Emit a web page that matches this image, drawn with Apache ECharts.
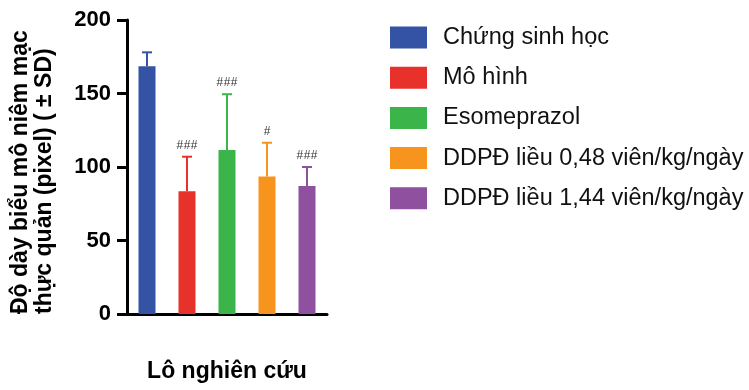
<!DOCTYPE html>
<html>
<head>
<meta charset="utf-8">
<script src="https://cdn.jsdelivr.net/npm/echarts@6/dist/echarts.min.js"></script>
<style>
  html, body { margin: 0; padding: 0; background: #fff; }
  #chart { width: 749px; height: 390px; }
</style>
</head>
<body>
<div id="chart"></div>
<script>
// Groups, mean thickness and standard deviation (pixel)
const categories = [
  'Chứng sinh học',
  'Mô hình',
  'Esomeprazol',
  'DDPĐ liều 0,48 viên/kg/ngày',
  'DDPĐ liều 1,44 viên/kg/ngày'
];
const means = [168.5, 83.5, 111.5, 93.5, 87];
const sds = [9.5, 23.5, 38, 23, 13];
const marks = ['', '###', '###', '#', '###'];
const colors = ['#3553A5', '#E8312A', '#3BB54A', '#F7941E', '#8E509F'];
const yTitleLines = ['Độ dày biểu mô niêm mạc', 'thực quản (pixel) ( ± SD)'];
const xTitle = 'Lô nghiên cứu';

const FONT = '"Liberation Sans", Arial, Helvetica, sans-serif';

const chart = echarts.init(document.getElementById('chart'), null, { renderer: 'canvas' });

// one bar series per group so each gets its own legend entry
const barSeries = categories.map((name, i) => ({
  name: name,
  type: 'bar',
  barWidth: 17,
  barGap: '-100%',
  itemStyle: { color: colors[i] },
  data: categories.map((_, j) => (j === i ? means[i] : null)),
  z: 2
}));

// upward SD whiskers with caps and significance marks
const errorSeries = {
  type: 'custom',
  z: 3,
  data: means.map((m, i) => [i, m, m + sds[i]]),
  encode: { x: 0, y: [1, 2] },
  renderItem: function (params, api) {
    const i = params.dataIndex;
    const base = api.coord([api.value(0), api.value(1)]);
    const top = api.coord([api.value(0), api.value(2)]);
    const c = colors[i];
    const capHalf = 5;
    const children = [
      { type: 'line', shape: { x1: base[0], y1: base[1], x2: top[0], y2: top[1] },
        style: { stroke: c, lineWidth: 2 } },
      { type: 'line', shape: { x1: top[0] - capHalf, y1: top[1], x2: top[0] + capHalf, y2: top[1] },
        style: { stroke: c, lineWidth: 2 } }
    ];
    if (marks[i]) {
      children.push({
        type: 'text',
        style: {
          text: marks[i], x: top[0], y: top[1] - 11,
          align: 'center', verticalAlign: 'middle',
          font: '12px "Liberation Mono", "DejaVu Sans Mono", monospace',
          fill: '#333'
        }
      });
    }
    return { type: 'group', children: children };
  }
};

const option = {
  animation: false,
  backgroundColor: '#fff',
  grid: { left: 127, right: 422, top: 20, bottom: 76 },
  legend: {
    orient: 'vertical',
    left: 385,
    top: 20.5,
    icon: 'rect',
    itemWidth: 37,
    itemHeight: 22,
    itemGap: 16.2,
    data: categories,
    textStyle: { fontFamily: FONT, fontSize: 23.5, lineHeight: 24, color: '#111', padding: [0, 0, 0, 11] }
  },
  xAxis: {
    type: 'category',
    data: categories,
    name: xTitle,
    nameLocation: 'middle',
    nameGap: 46,
    nameTextStyle: { fontFamily: FONT, fontSize: 23, fontWeight: 'bold', color: '#000' },
    axisLine: { lineStyle: { color: '#000', width: 3 } },
    axisTick: { alignWithLabel: true, length: 12, lineStyle: { color: '#000', width: 3 } },
    axisLabel: { show: false },
    splitLine: { show: false }
  },
  yAxis: {
    type: 'value',
    min: 0,
    max: 200,
    interval: 50,
    axisLine: { show: true, lineStyle: { color: '#000', width: 3 } },
    axisTick: { show: true, length: 10, lineStyle: { color: '#000', width: 3 } },
    axisLabel: { fontFamily: FONT, fontSize: 22, fontWeight: 'bold', color: '#000', margin: 16 },
    splitLine: { show: false }
  },
  graphic: [
    {
      type: 'text', x: 21, y: 314, rotation: Math.PI / 2,
      style: { text: yTitleLines[0], font: 'bold 23px ' + FONT, fill: '#000', align: 'left', verticalAlign: 'middle' }
    },
    {
      type: 'text', x: 45, y: 314, rotation: Math.PI / 2,
      style: { text: yTitleLines[1], font: 'bold 23px ' + FONT, fill: '#000', align: 'left', verticalAlign: 'middle' }
    }
  ],
  series: barSeries.concat([errorSeries])
};

chart.setOption(option);
</script>
</body>
</html>
